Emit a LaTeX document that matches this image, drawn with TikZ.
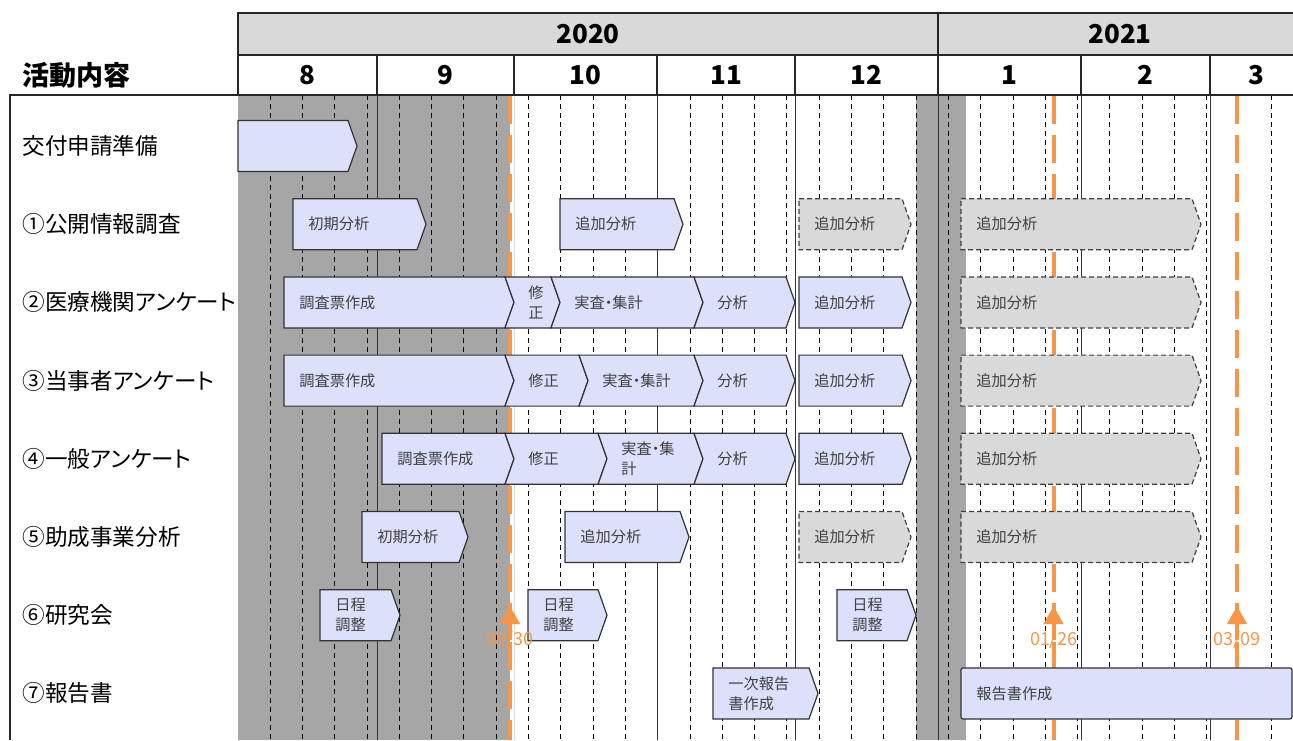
\documentclass[tikz,border=0pt]{standalone}
\usepackage{fontspec}
\setmainfont{Noto Sans CJK JP}[RawFeature=+palt]
\usepackage{tikz}
\usetikzlibrary{shapes, arrows.meta, positioning}
\definecolor{planblue}{RGB}{221,224,251}
\definecolor{tentgray}{RGB}{217,217,217}
\definecolor{holdgray}{RGB}{166,166,166}
\definecolor{yeargray}{RGB}{217,217,217}
\definecolor{msorange}{RGB}{247,150,70}
\definecolor{txtgray}{RGB}{64,64,64}
\tikzstyle{plan} = [draw=black!80, fill=planblue, line width=0.6pt]
\tikzstyle{tentative} = [draw=black!75, fill=tentgray, line width=0.6pt, dash pattern=on 2.5pt off 1.5pt]
\tikzstyle{bartext} = [anchor=west, inner sep=0pt, align=left, text=txtgray, font=\fontsize{7.6}{10}\selectfont]
\tikzstyle{rowlabel} = [anchor=west, inner sep=0pt, font=\fontsize{11.3}{14}\selectfont]
\tikzstyle{headtext} = [inner sep=0pt, font=\bfseries\fontsize{13}{15}\selectfont]
\tikzstyle{week} = [black, line width=0.4pt, dash pattern=on 2.5pt off 2pt]
\tikzstyle{mline} = [black!80, line width=0.5pt]
\tikzstyle{frame} = [black!85, line width=0.6pt]
\tikzstyle{milestone} = [msorange, line width=2pt, dash pattern=on 14pt off 5.5pt]
\tikzstyle{datetext} = [text=msorange, inner sep=0pt, font=\fontsize{9}{10}\selectfont]
% bar with a flat left end: [style]{name}{left x}{right x}{row y}{text}
\newcommand{\bara}[6][plan]{%
  \draw[#1] (#3,#5-25.5) -- (#4,#5-25.5) -- (#4+9,#5) -- (#4,#5+25.5) -- (#3,#5+25.5) -- cycle;
  \node[bartext] (#2) at (#3+15,#5) {#6};}
% bar that follows another one (notched left end)
\newcommand{\barb}[6][plan]{%
  \draw[#1] (#3,#5-25.5) -- (#4,#5-25.5) -- (#4+9,#5) -- (#4,#5+25.5) -- (#3,#5+25.5) -- (#3+9,#5) -- cycle;
  \node[bartext] (#2) at (#3+23,#5) {#6};}

\begin{document}
\begin{tikzpicture}[x=0.5pt, y=-0.5pt]
	\useasboundingbox (0,0) rectangle (1293,740);
	\clip (0,0) rectangle (1293,740);
	% shaded periods
	\fill[holdgray] (238,95) rectangle (510,740);
	\fill[holdgray] (916,95) rectangle (966,740);
	% weeks and months
	\foreach \k in {0,...,11,13,14,...,29,31}
		\draw[week] (270+32.3*\k,95) -- (270+32.3*\k,740);
	\foreach \x in {377,657,795,938,1081,1210}
		\draw[mline] (\x,95) -- (\x,740);
	\draw[black!15, line width=0.5pt] (514,95) -- (514,740);
	% header
	\draw[frame, fill=yeargray] (238,13) rectangle (1302,55);
	\draw[frame, fill=white] (238,55) rectangle (1302,95);
	\draw[frame] (938,13) -- (938,95);
	\foreach \x in {377,514,657,795,1081,1210}
		\draw[frame] (\x,55) -- (\x,95);
	\draw[frame] (10,740) -- (10,95) -- (1302,95);
	\node[headtext] (y2020) at (588,34) {2020};
	\node[headtext] (y2021) at (1120,34) {2021};
	\foreach \x/\m in {307.5/8, 445.5/9, 585.5/10, 726/11, 866.5/12, 1009.5/1, 1145.5/2, 1256/3}
		\node[headtext] (m\m) at (\x,75) {\m};
	\node[headtext, anchor=west, font=\bfseries\fontsize{13.5}{15}\selectfont] (title) at (22,75) {活動内容};
	\foreach \t [count=\i from 0] in {交付申請準備, ①公開情報調査, ②医療機関アンケート, ③当事者アンケート, ④一般アンケート, ⑤助成事業分析, ⑥研究会, ⑦報告書}
		\node[rowlabel] (act\i) at (22,146+78.2*\i) {\t};
	% milestones
	\draw[milestone] (510,96) -- (510,740);
	\draw[milestone] (1053.5,96) -- (1053.5,740);
	\draw[milestone] (1237,96) -- (1237,740);
	% bars
	\bara{prep}{238}{348}{146}{}
	\bara{r1a}{293}{417}{224.2}{初期分析}
	\bara{r1b}{560}{674}{224.2}{追加分析}
	\bara[tentative]{r1c}{799}{902}{224.2}{追加分析}
	\bara[tentative]{r1d}{961}{1192}{224.2}{追加分析}
	\bara{r2a}{284}{505}{302.4}{調査票作成}
	\barb{r2b}{505}{551}{302.4}{修\\正}
	\barb{r2c}{551}{694}{302.4}{実査・集計}
	\barb{r2d}{694}{786}{302.4}{分析}
	\bara{r2e}{799}{902}{302.4}{追加分析}
	\bara[tentative]{r2f}{961}{1192}{302.4}{追加分析}
	\bara{r3a}{284}{505}{380.6}{調査票作成}
	\barb{r3b}{505}{579}{380.6}{修正}
	\barb{r3c}{579}{694}{380.6}{実査・集計}
	\barb{r3d}{694}{786}{380.6}{分析}
	\bara{r3e}{799}{902}{380.6}{追加分析}
	\bara[tentative]{r3f}{961}{1192}{380.6}{追加分析}
	\bara{r4a}{382}{505}{458.8}{調査票作成}
	\barb{r4b}{505}{598}{458.8}{修正}
	\barb{r4c}{598}{694}{458.8}{実査・集\\計}
	\barb{r4d}{694}{786}{458.8}{分析}
	\bara{r4e}{799}{902}{458.8}{追加分析}
	\bara[tentative]{r4f}{961}{1192}{458.8}{追加分析}
	\bara{r5a}{362}{459}{537}{初期分析}
	\bara{r5b}{565}{680}{537}{追加分析}
	\bara[tentative]{r5c}{799}{902}{537}{追加分析}
	\bara[tentative]{r5d}{961}{1192}{537}{追加分析}
	\bara{r6a}{320}{391}{615.2}{日程\\調整}
	\bara{r6b}{528}{598}{615.2}{日程\\調整}
	\bara{r6c}{837}{907}{615.2}{日程\\調整}
	\bara{r7a}{713}{809}{693.4}{一次報告\\書作成}
	\draw[plan, rounded corners=1pt] (961,667.9) rectangle (1292,718.9);
	\node[bartext] (r7b) at (976,693.4) {報告書作成};
	% milestone dates
	\coordinate (tip1) at (510,606);
	\coordinate (tip2) at (1053.5,606);
	\coordinate (tip3) at (1237,606);
	\coordinate (base1) at (510,640);
	\coordinate (base2) at (1053.5,640);
	\coordinate (base3) at (1237,640);
	\foreach \i in {1,2,3}
		\draw[msorange, line width=2pt, -{Triangle[width=9.5pt,length=9pt]}] (base\i) -- (tip\i);
	\node[datetext] (d1) at (base1) {09/30};
	\node[datetext] (d2) at (base2) {01/26};
	\node[datetext] (d3) at (base3) {03/09};
\end{tikzpicture}
\end{document}
